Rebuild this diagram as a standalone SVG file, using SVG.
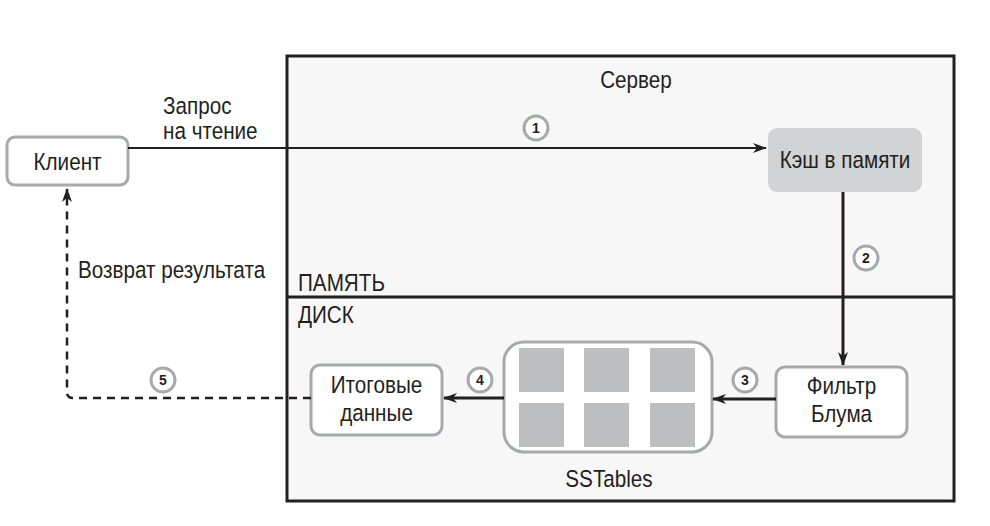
<svg xmlns="http://www.w3.org/2000/svg" width="990" height="526" viewBox="0 0 990 526">
<style>
text{font-family:"Liberation Sans",Arial,sans-serif;font-size:23.5px;fill:#231f20}
.box{fill:#fff;stroke:#a7a9ac;stroke-width:3}
.num{font-size:14px;font-weight:bold;text-anchor:middle}
.badge{fill:#fff;stroke:#a7a9ac;stroke-width:3}
.c{text-anchor:middle}
.sq{fill:#bcbec0}
</style>
<defs>
<marker id="ah" viewBox="0 0 14 10" refX="13" refY="5" markerWidth="14" markerHeight="10" markerUnits="userSpaceOnUse" orient="auto">
<path d="M0,0 L14,5 L0,10 L4,5 Z" fill="#231f20"/>
</marker>
</defs>
<rect width="990" height="526" fill="#fff"/>
<g id="server">
<rect x="287" y="56" width="667" height="445" fill="#f7f7f7" stroke="#231f20" stroke-width="3"/>
<line x1="287" y1="297" x2="954" y2="297" stroke="#231f20" stroke-width="3"/>
<text transform="matrix(0.88 0 0 1 636 88)" class="c">Сервер</text>
<text transform="matrix(0.88 0 0 1 298 291)">ПАМЯТЬ</text>
<text transform="matrix(0.88 0 0 1 298 323)">ДИСК</text>
</g>
<g id="client">
<rect class="box" x="7" y="137" width="121" height="48" rx="8"/>
<text transform="matrix(0.88 0 0 1 67.5 169.5)" class="c">Клиент</text>
</g>
<g id="cache">
<rect x="768" y="128" width="154" height="64" rx="9" fill="#d1d3d4"/>
<text transform="matrix(0.88 0 0 1 845 168)" class="c">Кэш в памяти</text>
</g>
<g id="bloom">
<rect class="box" x="776" y="367" width="131" height="70" rx="9"/>
<text transform="matrix(0.88 0 0 1 841.5 394)" class="c">Фильтр</text>
<text transform="matrix(0.88 0 0 1 841.5 422)" class="c">Блума</text>
</g>
<g id="sstables">
<rect class="box" x="504" y="342" width="208" height="110" rx="20"/>
<rect class="sq" x="519" y="348" width="45" height="44"/>
<rect class="sq" x="584" y="348" width="45" height="44"/>
<rect class="sq" x="650" y="348" width="45" height="44"/>
<rect class="sq" x="519" y="403" width="45" height="44"/>
<rect class="sq" x="584" y="403" width="45" height="44"/>
<rect class="sq" x="650" y="403" width="45" height="44"/>
<text transform="matrix(0.88 0 0 1 609 487)" class="c">SSTables</text>
</g>
<g id="result">
<rect class="box" x="311" y="365" width="131" height="70" rx="9"/>
<text transform="matrix(0.88 0 0 1 376.5 393)" class="c">Итоговые</text>
<text transform="matrix(0.88 0 0 1 376.5 421)" class="c">данные</text>
</g>
<g id="connectors" fill="none" stroke="#231f20">
<line x1="128" y1="148" x2="766" y2="148" stroke-width="2" marker-end="url(#ah)"/>
<line x1="843" y1="192" x2="843" y2="365" stroke-width="3" marker-end="url(#ah)"/>
<line x1="776" y1="399" x2="713" y2="399" stroke-width="3" marker-end="url(#ah)"/>
<line x1="504" y1="398" x2="444" y2="398" stroke-width="3" marker-end="url(#ah)"/>
<path d="M311,398 H73 Q67,398 67,392 V189" stroke-width="2.5" stroke-dasharray="8,6" marker-end="url(#ah)"/>
</g>
<g id="labels">
<text transform="matrix(0.88 0 0 1 163 114)">Запрос</text>
<text transform="matrix(0.88 0 0 1 163 139)">на чтение</text>
<text transform="matrix(0.88 0 0 1 78 278)">Возврат результата</text>
</g>
<g id="badges">
<circle class="badge" cx="536" cy="128" r="12"/><text class="num" x="536" y="133">1</text>
<circle class="badge" cx="866" cy="258" r="12"/><text class="num" x="866" y="263">2</text>
<circle class="badge" cx="745" cy="380" r="12"/><text class="num" x="745" y="385">3</text>
<circle class="badge" cx="480" cy="380" r="12"/><text class="num" x="480" y="385">4</text>
<circle class="badge" cx="163" cy="380" r="12"/><text class="num" x="163" y="385">5</text>
</g>
</svg>
